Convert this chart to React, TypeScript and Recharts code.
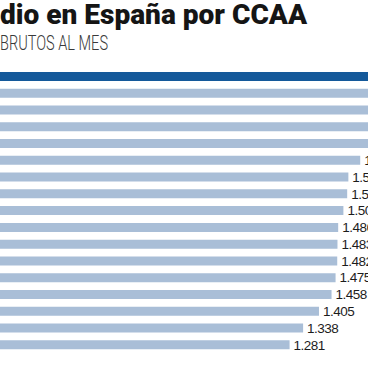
import React from 'react';
import { BarChart, Bar, XAxis, YAxis, Cell, LabelList } from 'recharts';

// comunidades de arriba abajo (la primera va destacada)
const comunidades = [
  'Madrid', 'País Vasco', 'Navarra', 'Cataluña', 'Aragón', 'Asturias',
  'Baleares', 'Cantabria', 'La Rioja', 'Castilla y León', 'Galicia',
  'C. Valenciana', 'Castilla-La Mancha', 'Andalucía', 'Murcia', 'Canarias', 'Extremadura',
];
// euros brutos al mes
const salarios = [1950, 1900, 1820, 1720, 1660, 1579, 1529, 1524, 1508, 1486, 1483, 1482, 1475, 1458, 1405, 1338, 1281];
const destacada = 'Madrid';

const data = comunidades.map((ccaa, i) => ({ ccaa, valor: salarios[i] }));

const fmt = (v: any) => {
  const n = Number(v);
  return `${Math.floor(n / 1000)}.${String(n % 1000).padStart(3, '0')}`;
};

export default function App() {
  return (
    <div style={{ position: 'fixed', top: 0, left: 0, width: 368, height: 369, overflow: 'hidden', background: '#fff' }}>
      <svg width={368} height={60} style={{ position: 'absolute', top: 0, left: 0 }}>
        <text x={0} y={24} fontFamily="Roboto, 'Liberation Sans', sans-serif" fontWeight={900} fontSize={27}
          fill="#151515" textLength={307} lengthAdjust="spacingAndGlyphs">
          dio en España por CCAA
        </text>
        <text x={0} y={50} fontFamily="Roboto, 'Liberation Sans', sans-serif" fontWeight={300} fontSize={20}
          fill="#3a3a3a" textLength={108} lengthAdjust="spacingAndGlyphs">
          BRUTOS AL MES
        </text>
      </svg>
      <div style={{ position: 'absolute', top: 68, left: -14 }}>
        <BarChart layout="vertical" width={474} height={285} data={data}
          margin={{ top: 0, right: 0, bottom: 0, left: 0 }}>
          <XAxis type="number" domain={[0, 2000]} hide />
          <YAxis type="category" dataKey="ccaa" hide />
          <Bar dataKey="valor" barSize={9} isAnimationActive={false}>
            {data.map(d => (
              <Cell key={d.ccaa} fill={d.ccaa === destacada ? '#14599a' : '#a9bed7'} />
            ))}
            <LabelList dataKey="valor" position="right" offset={4} formatter={fmt}
              style={{ fontSize: 13.5, fill: '#1c1c1c', fontFamily: "'Liberation Sans', Arial, sans-serif", letterSpacing: -0.5 }} />
          </Bar>
        </BarChart>
      </div>
    </div>
  );
}
